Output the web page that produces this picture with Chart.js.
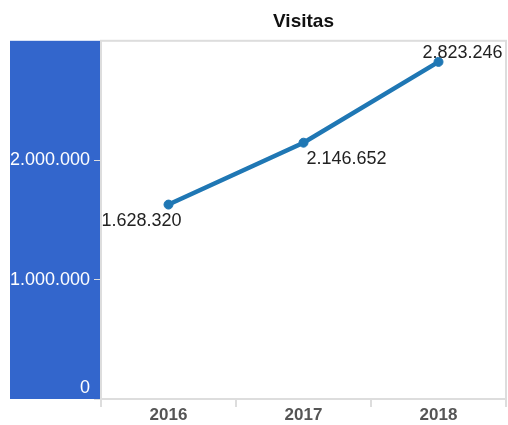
<!DOCTYPE html>
<html>
<head>
<meta charset="utf-8">
<script src="https://cdn.jsdelivr.net/npm/chart.js@4"></script>
<style>
  body { margin: 0; background: #fff; }
  #wrap { width: 508px; height: 425px; position: relative; }
</style>
</head>
<body>
<div id="wrap"><canvas id="chart"></canvas></div>
<script>
// Data
const years = ['2016', '2017', '2018'];
const visitas = [1628320, 2146652, 2823246];
const yTicks = [0, 1000000, 2000000];

// label offsets from each point (style only)
const labelOffsets = [[-67, 16], [3, 16], [-16, -9]];

const fmt = v => v.toString().replace(/\B(?=(\d{3})+(?!\d))/g, '.');

// light gray frame around the plot
const framePlugin = {
  id: 'frame',
  beforeDatasetsDraw(chart) {
    const a = chart.chartArea, c = chart.ctx;
    c.save();
    c.strokeStyle = '#dddddd';
    c.lineWidth = 2;
    c.strokeRect(a.left, a.top, a.right - a.left, a.bottom - a.top);
    c.restore();
  }
};

// value labels next to points
const valueLabels = {
  id: 'valueLabels',
  afterDatasetsDraw(chart) {
    const c = chart.ctx;
    const meta = chart.getDatasetMeta(0);
    c.save();
    c.font = '18px Arial, "Liberation Sans", sans-serif';
    c.fillStyle = '#222';
    c.textAlign = 'left';
    c.textBaseline = 'middle';
    meta.data.forEach((pt, i) => {
      const o = labelOffsets[i];
      c.fillText(fmt(visitas[i]), pt.x + o[0], pt.y + o[1]);
    });
    c.restore();
  }
};

const ctx = document.getElementById('chart').getContext('2d');
new Chart(ctx, {
  type: 'line',
  data: {
    labels: years,
    datasets: [{
      label: 'Visitas',
      data: visitas,
      borderColor: '#1f77b4',
      backgroundColor: '#1f77b4',
      borderWidth: 4.5,
      pointRadius: 4.5,
      pointBorderWidth: 1,
      pointHoverRadius: 4.5,
      fill: false,
      tension: 0,
      clip: 8
    }]
  },
  options: {
    responsive: true,
    maintainAspectRatio: false,
    animation: false,
    layout: { autoPadding: false, padding: { left: 10, right: 2, top: 0, bottom: 0 } },
    plugins: {
      legend: { display: false },
      tooltip: { enabled: false },
      title: {
        display: true,
        text: 'Visitas',
        fullSize: false,
        color: '#111',
        font: { family: 'Arial, "Liberation Sans", sans-serif', size: 19, weight: 'bold' },
        padding: { top: 10, bottom: 8 }
      }
    },
    scales: {
      x: {
        offset: true,
        grid: { offset: true, drawOnChartArea: false, color: '#dddddd', tickLength: 8, lineWidth: 2 },
        border: { color: '#dddddd', width: 2 },
        ticks: {
          color: '#555',
          padding: -2,
          font: { family: 'Arial, "Liberation Sans", sans-serif', size: 17, weight: 'bold' }
        },
        afterFit(s) { s.height = 26; }
      },
      y: {
        min: 0,
        max: 3000000,
        backgroundColor: '#3366cc',
        afterBuildTicks(s) { s.ticks = yTicks.concat([3000000]).map(v => ({ value: v })); },
        grid: {
          drawOnChartArea: false,
          tickLength: 7,
          color: ctx2 => (ctx2.tick && ctx2.tick.value >= 3000000) ? 'rgba(0,0,0,0)' : '#dddddd'
        },
        border: { color: '#dddddd', width: 2 },
        ticks: {
          color: '#ffffff',
          padding: 4,
          font: { family: 'Arial, "Liberation Sans", sans-serif', size: 18 },
          callback: v => v >= 3000000 ? '' : (v === 0 ? ['0', ''] : fmt(v))
        },
        afterFit(s) { s.width = 91; }
      }
    }
  },
  plugins: [framePlugin, valueLabels]
});
</script>
</body>
</html>
